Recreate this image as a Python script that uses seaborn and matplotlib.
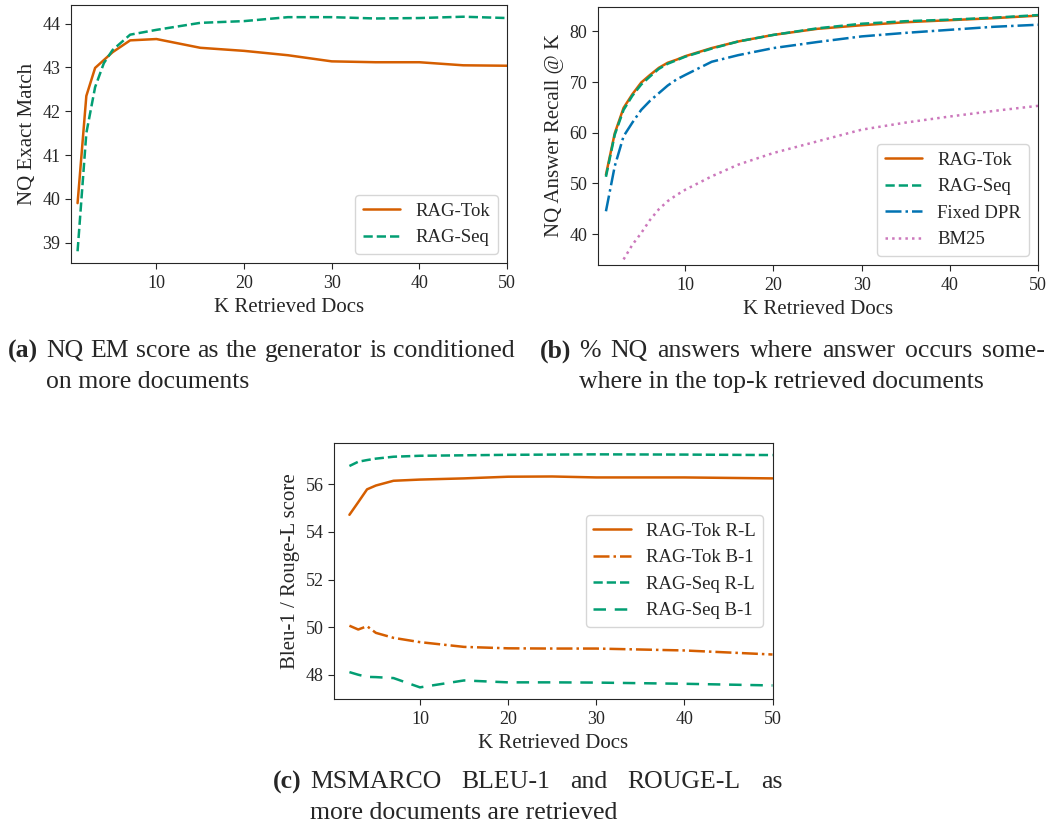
import matplotlib
matplotlib.use("Agg")
import matplotlib.pyplot as plt
import seaborn as sns

# ---------------- data ----------------
# (a) NQ exact match vs K
A_K = [1, 2, 3, 4, 5, 7, 10, 15, 20, 25, 30, 35, 40, 45, 50]
A_TOK = [39.9, 42.35, 42.99, 43.17, 43.35, 43.62, 43.65, 43.45, 43.38, 43.28, 43.14, 43.12, 43.12, 43.05, 43.04]
A_SEQ = [38.8, 41.5, 42.55, 43.1, 43.4, 43.75, 43.86, 44.02, 44.06, 44.15, 44.15, 44.12, 44.13, 44.16, 44.13]

# (b) NQ answer recall @ K
B_K = [1, 2, 3, 4, 5, 6, 7, 8, 9, 10, 13, 16, 20, 25, 30, 35, 40, 45, 50]
B_TOK = [51.7, 59.9, 64.9, 67.6, 69.9, 71.4, 72.8, 73.8, 74.4, 75.1, 76.7, 78.0, 79.3, 80.5, 81.2, 81.8, 82.2, 82.6, 83.1]
B_SEQ = [51.3, 59.6, 64.5, 67.3, 69.5, 71.1, 72.6, 73.6, 74.3, 75.0, 76.6, 78.0, 79.3, 80.6, 81.5, 82.0, 82.3, 82.7, 83.2]
B_DPR = [44.5, 53.4, 59.3, 62.0, 64.5, 66.3, 67.8, 69.3, 70.5, 71.4, 74.0, 75.3, 76.7, 77.9, 79.0, 79.7, 80.3, 80.9, 81.3]
B_BM25_K = [3, 4, 5, 6, 7, 8, 9, 10, 13, 16, 20, 25, 30, 35, 40, 45, 50]
B_BM25 = [35.0, 37.9, 40.2, 42.8, 44.9, 46.5, 47.7, 48.75, 51.4, 53.7, 56.0, 58.3, 60.6, 62.0, 63.2, 64.3, 65.3]

# (c) MSMARCO Bleu-1 / Rouge-L
C_K = [2, 3, 4, 5, 7, 10, 15, 20, 25, 30, 40, 50]
C_TOK_RL = [54.72, 55.25, 55.79, 55.95, 56.15, 56.2, 56.25, 56.32, 56.33, 56.29, 56.29, 56.25]
C_TOK_B1 = [50.06, 49.9, 50.04, 49.76, 49.55, 49.37, 49.17, 49.11, 49.1, 49.1, 49.02, 48.85]
C_SEQ_RL = [56.77, 56.95, 57.02, 57.08, 57.16, 57.2, 57.22, 57.24, 57.25, 57.26, 57.25, 57.23]
C_SEQ_B1 = [48.11, 48.0, 47.91, 47.9, 47.86, 47.47, 47.76, 47.68, 47.68, 47.67, 47.62, 47.55]

X_TICKS = [10, 20, 30, 40, 50]

# ---------------- style ----------------
sns.set_style("ticks")
plt.rcParams["font.family"] = ["Liberation Serif", "DejaVu Serif"]

pal = sns.color_palette("colorblind")
C_ORANGE = pal[3]
C_GREEN = pal[2]
C_BLUE = pal[0]
C_PINK = pal[4]
LW = 1.8
TICK_FS = 13
LABEL_FS = 15
LEG_FS = 13.5
CAP_FS = 18.5

W, H = 1053, 827
fig = plt.figure(figsize=(W / 100, H / 100), dpi=100)


def ax_at(left, top, right, bottom):
    return fig.add_axes([left / W, 1 - bottom / H, (right - left) / W, (bottom - top) / H])


def draw(ax, xs, ys, color, ls, label):
    sns.lineplot(x=xs, y=ys, ax=ax, color=color, linestyle=ls, linewidth=LW, label=label)


def finish(ax, ylabel):
    ax.set_xlabel("K Retrieved Docs", fontsize=LABEL_FS, labelpad=4)
    ax.set_ylabel(ylabel, fontsize=LABEL_FS)
    ax.set_xticks(X_TICKS)
    ax.tick_params(labelsize=TICK_FS, length=4)
    ax.tick_params(axis="x", pad=5)
    for s in ax.spines.values():
        s.set_visible(True)


# (a)
ax1 = ax_at(71, 5, 507, 263)
draw(ax1, A_K, A_TOK, C_ORANGE, "-", "RAG-Tok")
draw(ax1, A_K, A_SEQ, C_GREEN, "--", "RAG-Seq")
ax1.set_xlim(0.25, 50)
finish(ax1, "NQ Exact Match")
ax1.legend(loc="lower right", fontsize=LEG_FS)

# (b)
ax2 = ax_at(598, 6.5, 1038, 265)
draw(ax2, B_K, B_TOK, C_ORANGE, "-", "RAG-Tok")
draw(ax2, B_K, B_SEQ, C_GREEN, "--", "RAG-Seq")
draw(ax2, B_K, B_DPR, C_BLUE, "-.", "Fixed DPR")
draw(ax2, B_BM25_K, B_BM25, C_PINK, ":", "BM25")
ax2.set_xlim(0.1, 50)
ax2.set_ylim(33.9, 84.9)
ax2.set_yticks([40, 50, 60, 70, 80])
finish(ax2, "NQ Answer Recall @ K")
ax2.legend(loc="lower right", fontsize=LEG_FS)

# (c)
ax3 = ax_at(334, 442.7, 772.5, 699)
draw(ax3, C_K, C_TOK_RL, C_ORANGE, "-", "RAG-Tok R-L")
draw(ax3, C_K, C_TOK_B1, C_ORANGE, "-.", "RAG-Tok B-1")
draw(ax3, C_K, C_SEQ_RL, C_GREEN, "--", "RAG-Seq R-L")
draw(ax3, C_K, C_SEQ_B1, C_GREEN, (0, (5, 3.5)), "RAG-Seq B-1")
ax3.set_xlim(0.25, 50)
finish(ax3, "Bleu-1 / Rouge-L score")
ax3.legend(loc="center right", fontsize=LEG_FS)

# ---------------- captions ----------------
def cap(x, y, s, bold=False):
    return fig.text(x / W, 1 - y / H, s, fontsize=CAP_FS, ha="left", va="center",
                    fontweight="bold" if bold else "normal")


renderer = fig.canvas.get_renderer()


def justified(x0, x1, y, sentence):
    words = sentence.split(" ")
    texts = [cap(x0, y, w) for w in words]
    widths = [t.get_window_extent(renderer).width for t in texts]
    gap = (x1 - x0 - sum(widths)) / (len(words) - 1)
    x = x0
    for t, w in zip(texts, widths):
        t.set_x(x / W)
        x += w + gap


cap(8, 351, "(a)", bold=True)
justified(46, 515, 351, "NQ EM score as the generator is conditioned")
cap(46, 382, "on more documents")

cap(540, 351, "(b)", bold=True)
justified(579, 1045, 351, "% NQ answers where answer occurs some-")
cap(579, 382, "where in the top-k retrieved documents")

cap(273, 782, "(c)", bold=True)
justified(310, 782, 782, "MSMARCO BLEU-1 and ROUGE-L as")
cap(310, 813, "more documents are retrieved")

fig.savefig("out.png", dpi=100)
